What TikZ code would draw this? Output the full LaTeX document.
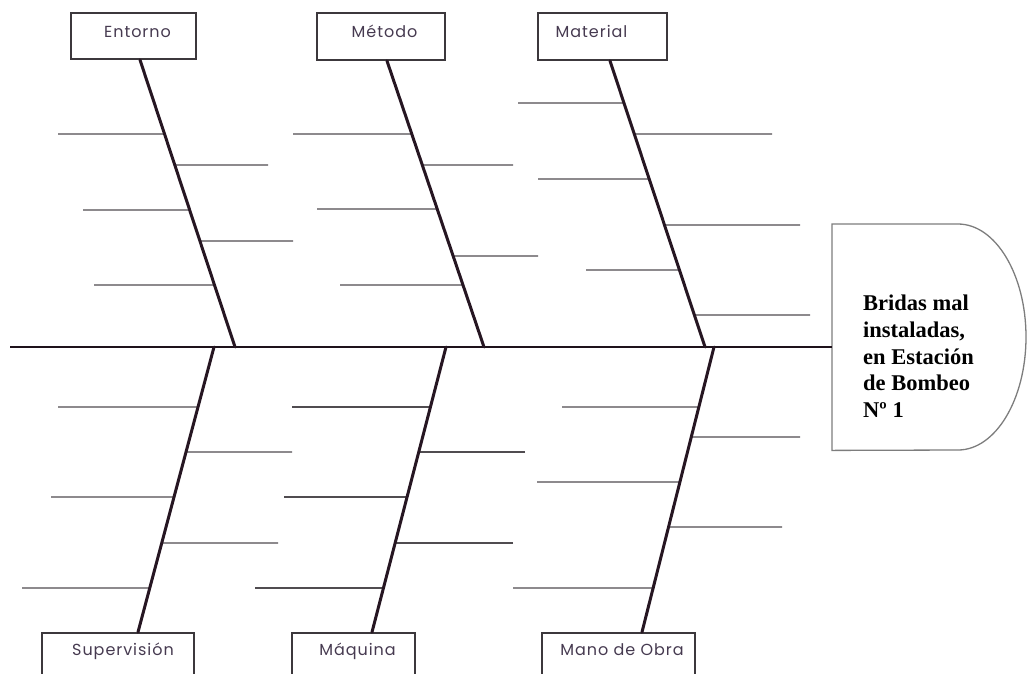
\documentclass[tikz,border=0pt]{standalone}
\usepackage{fontspec}
\setmainfont{Liberation Serif}
\newfontfamily\labfont[LetterSpace=6]{Poppins}
\usetikzlibrary{calc}
\definecolor{bonec}{RGB}{38,22,34}
\definecolor{ribc}{RGB}{80,76,80}
\definecolor{boxc}{RGB}{60,56,60}
\definecolor{labc}{RGB}{70,58,80}
\definecolor{headc}{RGB}{125,125,125}
\tikzset{
  bone/.style={line width=3pt, color=bonec, line cap=round},
  rib/.style={line width=1.4pt, color=ribc},
  spine/.style={line width=2.6pt, color=bonec!80!black},
  catbox/.style={draw=boxc, line width=1.8pt, font=\labfont\fontsize{16}{18}\selectfont, text=labc, inner sep=0pt},
  topbox/.style={catbox, text height=11pt, text depth=9pt},
  botbox/.style={catbox, text height=11pt, text depth=34pt, minimum height=67pt},
  headline/.style={line width=1.3pt, color=headc},
  headtext/.style={font=\bfseries\fontsize{22.5}{26.8}\selectfont, align=left, inner sep=0pt, text=black}
}
\newcommand\ribline[4]{\draw[rib] (#4,#3) -- (intersection of #1--#2 and 0,#3--1,#3);}
\begin{document}
\begin{tikzpicture}[x=1pt,y=-1pt]
\useasboundingbox (0,0) rectangle (1028,673);
\clip (0,0) rectangle (1028,673);
% category boxes
\node[topbox, minimum width=125pt, minimum height=46pt] (ent) at (133.5,36) {\hspace*{8pt}Entorno};
\node[topbox, minimum width=128pt, minimum height=47pt] (met) at (381,36.5) {\hspace*{7pt}Método};
\node[topbox, minimum width=129pt, minimum height=47pt] (mat) at (602.5,36.5) {Material\hspace*{22pt}};
\node[botbox, minimum width=152pt] (sup) at (118,666.5) {\hspace*{10pt}Supervisión};
\node[botbox, minimum width=123pt] (maq) at (353.5,666.5) {\hspace*{8pt}Máquina};
\node[botbox, minimum width=153pt] (mob) at (618.5,666.5) {\hspace*{7pt}Mano de Obra};
% head
\node[minimum width=194pt, minimum height=226pt, anchor=north west, inner sep=0pt] (head) at (832,224) {};
\draw[headline] (958,224) -- (head.north west) -- (head.south west) -- (958,450)
  .. controls (995.5,450) and (1026,399.4) .. (1026,337)
  .. controls (1026,274.6) and (995.5,224) .. (958,224);
\node[headtext, anchor=north west] (htxt) at (863,294.6) {Bridas mal\\instaladas,\\en Estación\\de Bombeo\\Nº 1};
% spine
\coordinate (tail) at (10,347);
\draw[spine] (tail) -- (tail -| head.west);
% bone ends
\coordinate (sE) at (140,60);  \coordinate (eE) at (235,347);
\coordinate (sM) at (387,60);  \coordinate (eM) at (484,347);
\coordinate (sA) at (610,60);  \coordinate (eA) at (705,347);
\coordinate (sS) at (138,633); \coordinate (eS) at (214,347);
\coordinate (sQ) at (372,633); \coordinate (eQ) at (446,347);
\coordinate (sO) at (642,633); \coordinate (eO) at (714,347);
% ribs
\ribline{sE}{eE}{134}{58}
\ribline{sE}{eE}{165}{268}
\ribline{sE}{eE}{210}{83}
\ribline{sE}{eE}{241}{293}
\ribline{sE}{eE}{285}{94}
\ribline{sM}{eM}{134}{293}
\ribline{sM}{eM}{165}{513}
\ribline{sM}{eM}{209}{317}
\ribline{sM}{eM}{256}{538}
\ribline{sM}{eM}{285}{340}
\ribline{sA}{eA}{103}{518}
\ribline{sA}{eA}{134}{772}
\ribline{sA}{eA}{179}{538}
\ribline{sA}{eA}{225}{800}
\ribline{sA}{eA}{270}{586}
\ribline{sA}{eA}{315}{810}
\ribline{sS}{eS}{407}{58}
\ribline{sS}{eS}{452}{292}
\ribline{sS}{eS}{497}{51}
\ribline{sS}{eS}{543}{278}
\ribline{sS}{eS}{588}{22}
\ribline{sQ}{eQ}{407}{292}
\ribline{sQ}{eQ}{452}{525}
\ribline{sQ}{eQ}{497}{284}
\ribline{sQ}{eQ}{543}{513}
\ribline{sQ}{eQ}{588}{255}
\ribline{sO}{eO}{407}{562}
\ribline{sO}{eO}{437}{800}
\ribline{sO}{eO}{482}{537}
\ribline{sO}{eO}{527}{782}
\ribline{sO}{eO}{588}{513}
% bones
\draw[bone] (ent.south -| sE) -- (eE);
\draw[bone] (met.south -| sM) -- (eM);
\draw[bone] (mat.south -| sA) -- (eA);
\draw[bone] (sup.north -| sS) -- (eS);
\draw[bone] (maq.north -| sQ) -- (eQ);
\draw[bone] (mob.north -| sO) -- (eO);
\end{tikzpicture}
\end{document}
